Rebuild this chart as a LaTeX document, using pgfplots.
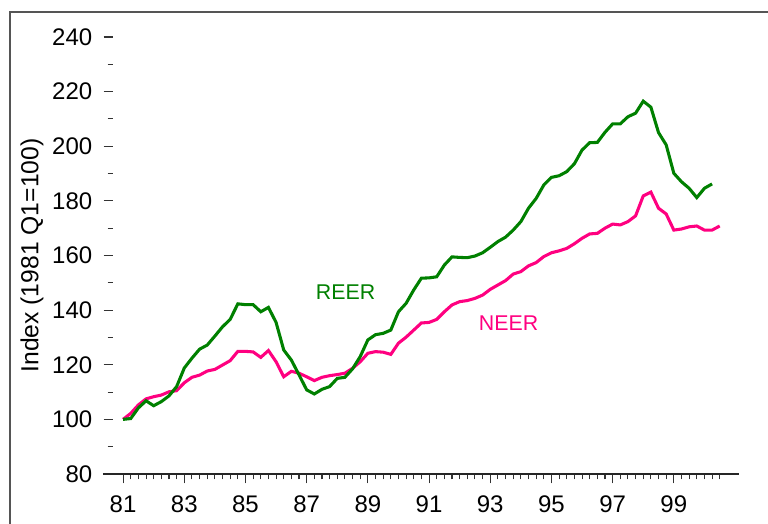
\documentclass[border=0pt]{standalone}
\usepackage{fontspec}
\setmainfont{Liberation Sans}
\usepackage{pgfplots}
\usepackage{pgfplotstable}
\pgfplotsset{compat=1.18}

\definecolor{reergreen}{RGB}{0,128,0}
\definecolor{neerpink}{RGB}{255,0,128}
\definecolor{framegray}{RGB}{85,85,85}

% quarterly index, 1981 Q1 = 100
\pgfplotstableread{
year   reer
81.00  100.0
81.25  100.3
81.50  104.2
81.75  106.8
82.00  105.0
82.25  106.5
82.50  108.6
82.75  112.0
83.00  118.8
83.25  122.4
83.50  125.7
83.75  127.2
84.00  130.5
84.25  133.9
84.50  136.6
84.75  142.3
85.00  142.0
85.25  142.0
85.50  139.4
85.75  141.0
86.00  135.5
86.25  125.4
86.50  121.7
86.75  116.3
87.00  110.8
87.25  109.3
87.50  111.0
87.75  112.0
88.00  115.0
88.25  115.4
88.50  118.5
88.75  123.0
89.00  129.1
89.25  131.0
89.50  131.5
89.75  132.7
90.00  139.4
90.25  142.5
90.50  147.4
90.75  151.7
91.00  151.8
91.25  152.2
91.50  156.5
91.75  159.5
92.00  159.3
92.25  159.2
92.50  159.8
92.75  161.0
93.00  163.0
93.25  165.1
93.50  166.7
93.75  169.3
94.00  172.4
94.25  177.3
94.50  180.9
94.75  185.8
95.00  188.6
95.25  189.2
95.50  190.7
95.75  193.6
96.00  198.6
96.25  201.3
96.50  201.4
96.75  205.1
97.00  208.2
97.25  208.2
97.50  210.8
97.75  212.1
98.00  216.5
98.25  214.3
98.50  205.0
98.75  200.5
99.00  190.1
99.25  187.0
99.50  184.6
99.75  181.2
100.00 184.6
100.25 186.2
}\reertable

\pgfplotstableread{
year   neer
81.00  100.0
81.25  102.2
81.50  105.3
81.75  107.5
82.00  108.3
82.25  108.9
82.50  110.1
82.75  110.5
83.00  113.4
83.25  115.4
83.50  116.2
83.75  117.7
84.00  118.3
84.25  119.9
84.50  121.5
84.75  124.9
85.00  124.9
85.25  124.7
85.50  122.7
85.75  125.2
86.00  121.1
86.25  115.6
86.50  117.6
86.75  116.9
87.00  115.6
87.25  114.2
87.50  115.4
87.75  116.0
88.00  116.4
88.25  116.9
88.50  118.7
88.75  121.1
89.00  124.2
89.25  124.8
89.50  124.6
89.75  123.8
90.00  127.9
90.25  130.1
90.50  132.7
90.75  135.3
91.00  135.5
91.25  136.6
91.50  139.4
91.75  141.9
92.00  143.1
92.25  143.5
92.50  144.3
92.75  145.5
93.00  147.6
93.25  149.2
93.50  150.8
93.75  153.2
94.00  154.1
94.25  156.2
94.50  157.4
94.75  159.6
95.00  161.0
95.25  161.7
95.50  162.6
95.75  164.3
96.00  166.3
96.25  167.9
96.50  168.1
96.75  170.0
97.00  171.5
97.25  171.2
97.50  172.4
97.75  174.5
98.00  181.8
98.25  183.2
98.50  177.3
98.75  175.2
99.00  169.3
99.25  169.7
99.50  170.5
99.75  170.8
100.00 169.3
100.25 169.3
100.50 170.8
}\neertable

\begin{document}
\begin{tikzpicture}
\useasboundingbox (-84.75pt,-37.5pt) rectangle (491.25pt,355.5pt);
% outer frame (only left and top edges fall inside the picture)
\draw[framegray, line width=1.3pt] (-77.25pt,-60pt) -- (-77.25pt,346.5pt) -- (510pt,346.5pt);
\begin{axis}[
    at={(0pt,0pt)}, anchor=south west,
    scale only axis,
    width=469.5pt, height=327.75pt,
    xmin=80.67, xmax=101.13,
    ymin=80, ymax=240,
    axis x line*=bottom, axis y line*=left,
    x axis line style={-, black!85, line width=0.9pt, shorten <=-7.5pt},
    y axis line style={draw=none},
    tick align=outside,
    xtick={81,83,...,99},
    minor xtick={81.25,81.5,...,100.5},
    ytick={80,100,...,240},
    minor ytick={90,110,...,230},
    major tick length=7pt, minor tick length=4pt,
    tick style={black!80, line width=0.8pt},
    /pgf/number format/assume math mode=true,
    tick label style={font=\fontsize{18}{21}\selectfont},
    yticklabel style={xshift=-5pt},
    xticklabel style={yshift=-6pt},
    ylabel={Index (1981 Q1=100)},
    every axis y label/.style={at={(axis description cs:-0.1294,0.5)},
        rotate=90, anchor=center, font=\fontsize{18.5}{22}\selectfont},
]
\addplot[neerpink, line width=2.3pt] table[x=year, y=neer] {\neertable};
\addplot[reergreen, line width=2.3pt] table[x=year, y=reer] {\reertable};
\node[reergreen, font=\fontsize{16}{19}\selectfont] at (axis cs:88.27,146.5) {REER};
\node[neerpink, font=\fontsize{16}{19}\selectfont] at (axis cs:93.6,135.1) {NEER};
\end{axis}
\end{tikzpicture}
\end{document}
